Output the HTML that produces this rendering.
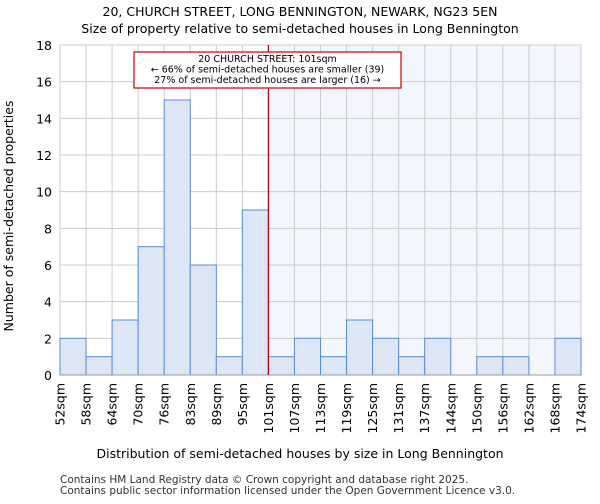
<!DOCTYPE html>
<html><head><meta charset="utf-8"><style>
body{margin:0;background:#fff;font-family:"DejaVu Sans","Liberation Sans",sans-serif}
</style></head><body>
<svg id="c" width="600" height="500" xmlns="http://www.w3.org/2000/svg" font-family="DejaVu Sans, Liberation Sans, sans-serif">
<text x="300" y="16" text-anchor="middle" font-size="12.5">20, CHURCH STREET, LONG BENNINGTON, NEWARK, NG23 5EN</text>
<text x="300" y="33" text-anchor="middle" font-size="12.5">Size of property relative to semi-detached houses in Long Bennington</text>
<g id="g"></g>
<text x="300" y="458" text-anchor="middle" font-size="12.5">Distribution of semi-detached houses by size in Long Bennington</text>
<text transform="translate(13,216) rotate(-90)" text-anchor="middle" font-size="12.5">Number of semi-detached properties</text>
<text x="60" y="483" font-size="10.5" fill="#333">Contains HM Land Registry data © Crown copyright and database right 2025.</text>
<text x="60" y="494" font-size="10.5" fill="#333">Contains public sector information licensed under the Open Government Licence v3.0.</text>
</svg>
<script>
const categories=["52sqm","58sqm","64sqm","70sqm","76sqm","83sqm","89sqm","95sqm","101sqm","107sqm","113sqm","119sqm","125sqm","131sqm","137sqm","144sqm","150sqm","156sqm","162sqm","168sqm","174sqm"];
const counts=[2,1,3,7,15,6,1,9,1,2,1,3,2,1,2,0,1,1,0,2];
const yTicks=[0,2,4,6,8,10,12,14,16,18];
const markerIndex=8;
const NS="http://www.w3.org/2000/svg";
const g=document.getElementById('g');
const x0=60,x1=581,yTop=45,yBot=375,yMax=18;
const bw=(x1-x0)/counts.length;
const X=i=>x0+i*bw;
const Y=v=>yBot-(v/yMax)*(yBot-yTop);
function mk(t,a){const e=document.createElementNS(NS,t);for(const k in a)e.setAttribute(k,a[k]);g.appendChild(e);return e;}
let r=mk('rect',{x:X(markerIndex),y:yTop,width:x1-X(markerIndex),height:yBot-yTop,fill:'#f3f6fd'});


yTicks.forEach(v=>{
 let l=mk('line',{x1:x0,x2:x1,y1:Y(v),y2:Y(v),stroke:'#ccc'});
 
 
 let t=mk('text',{x:x0-8,y:Y(v)+5,'text-anchor':'end','font-size':12.5});
 t.textContent=v;
 
 
});
categories.forEach((c,i)=>{
 let l=mk('line',{x1:X(i),x2:X(i),y1:yTop,y2:yBot,stroke:'#ccc'});
 
 
 let t=mk('text',{transform:`translate(${X(i)+4.5},${yBot+8}) rotate(-90)`,'text-anchor':'end','font-size':12.5});
 t.textContent=c;
 
 
});
counts.forEach((v,i)=>{
 if(v<=0)return;
 let b=mk('rect',{x:X(i),y:Y(v),width:bw,height:yBot-Y(v),fill:'#dce6f5',stroke:'#5b8bd4','stroke-width':1});
 
 
});
let ax=mk('line',{x1:x0,x2:x1,y1:yBot,y2:yBot,stroke:'#999'});


let ml=mk('line',{x1:X(markerIndex),x2:X(markerIndex),y1:yTop,y2:yBot,stroke:'#b00','stroke-width':1.2});


let box=mk('rect',{x:134,y:52,width:267,height:36,fill:'#fff',stroke:'#c00','stroke-width':1.2});


["20 CHURCH STREET: 101sqm","← 66% of semi-detached houses are smaller (39)","27% of semi-detached houses are larger (16) →"].forEach((s,i)=>{
 let t=mk('text',{x:267.5,y:62+i*10.5,'text-anchor':'middle','font-size':9.5});
 t.textContent=s;
 
 
});
</script>
</body></html>
